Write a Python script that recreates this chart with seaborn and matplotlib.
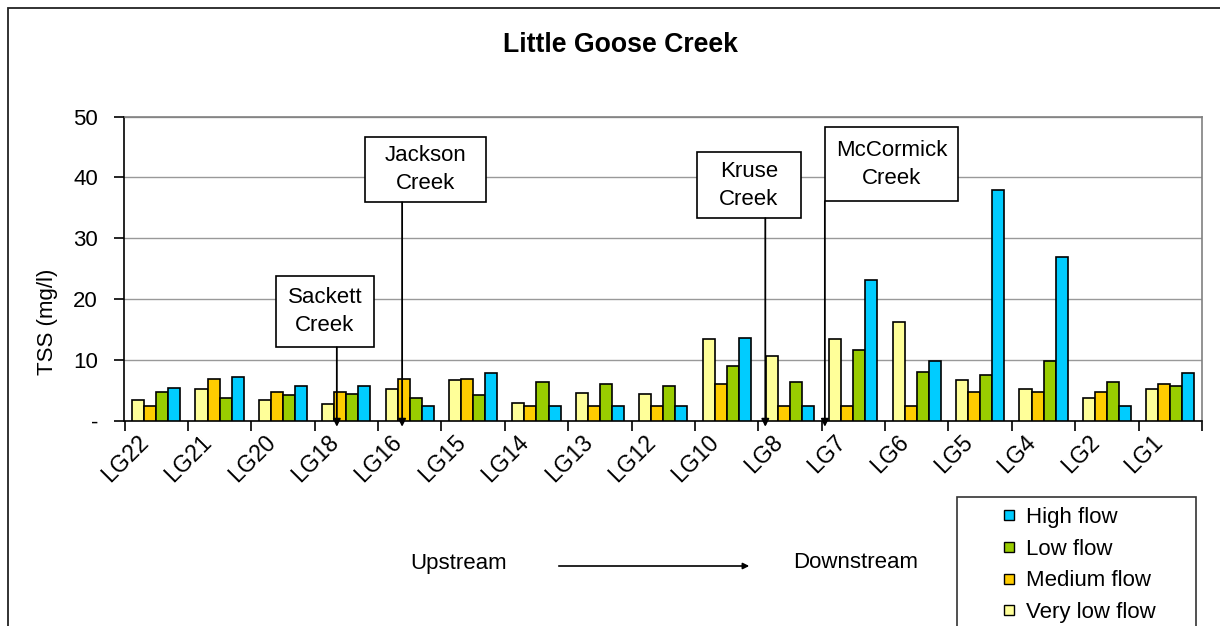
import matplotlib
matplotlib.use("Agg")
from matplotlib import pyplot as plt
from matplotlib.patches import Rectangle, FancyArrowPatch
from matplotlib.lines import Line2D
import matplotlib.transforms as mtransforms
import pandas as pd
import seaborn as sns

# sites from upstream to downstream
sites = ['LG22', 'LG21', 'LG20', 'LG18', 'LG16', 'LG15', 'LG14', 'LG13', 'LG12',
         'LG10', 'LG8', 'LG7', 'LG6', 'LG5', 'LG4', 'LG2', 'LG1']
very_low = [3.4, 5.3, 3.4, 2.8, 5.3, 6.7, 3.0, 4.6, 4.4, 13.4, 10.7, 13.4, 16.2, 6.7, 5.3, 3.7, 5.3]
medium = [2.5, 6.9, 4.8, 4.8, 6.9, 6.9, 2.5, 2.5, 2.5, 6.0, 2.5, 2.5, 2.5, 4.8, 4.8, 4.8, 6.0]
low = [4.8, 3.7, 4.2, 4.4, 3.7, 4.2, 6.4, 6.0, 5.8, 9.0, 6.4, 11.6, 8.1, 7.6, 9.9, 6.4, 5.8]
high = [5.5, 7.2, 5.8, 5.8, 2.5, 7.8, 2.5, 2.5, 2.5, 13.7, 2.5, 23.2, 9.9, 37.9, 26.9, 2.5, 7.8]

flows = ['Very low flow', 'Medium flow', 'Low flow', 'High flow']
colors = ['#FFFF99', '#FFCC00', '#99CC00', '#00CCFF']
y_ticks = [0, 10, 20, 30, 40, 50]
y_labels = ['-', '10', '20', '30', '40', '50']

# creek annotations: label, arrow x position (data), box x0, x1, y0, y1 (data)
creeks = [
    ('Sackett\nCreek', 2.85, 1.89, 3.43, 12.1, 23.8),
    ('Jackson\nCreek', 3.88, 3.29, 5.20, 35.9, 46.6),
    ('Kruse\nCreek', 9.61, 8.53, 10.17, 33.3, 44.1),
    ('McCormick\nCreek', 10.55, 10.55, 12.65, 36.1, 48.2),
]

df = pd.DataFrame({'Site': sites, 'Very low flow': very_low, 'Medium flow': medium,
                   'Low flow': low, 'High flow': high})
df = df.melt(id_vars='Site', var_name='Flow', value_name='TSS')

sns.set_style("white")
plt.rcParams['font.family'] = ['Liberation Sans', 'DejaVu Sans']
plt.rcParams['text.color'] = 'black'
plt.rcParams['xtick.color'] = 'black'
plt.rcParams['ytick.color'] = 'black'
plt.rcParams['xtick.labelcolor'] = 'black'
plt.rcParams['ytick.labelcolor'] = 'black'

fig = plt.figure(figsize=(12.2, 6.26), dpi=100)
ax = fig.add_axes([124.5 / 1220, 1 - 421 / 626, (1202 - 124.5) / 1220, (421 - 116.5) / 626])

sns.barplot(data=df, x='Site', y='TSS', hue='Flow', hue_order=flows, order=sites,
            palette=colors, saturation=1, width=0.76, edgecolor='black',
            linewidth=1.2, legend=False, ax=ax, zorder=3)

ax.set_xlim(-0.5, len(sites) - 0.5)
ax.set_ylim(0, 50)
ax.set_yticks(y_ticks)
ax.set_yticklabels(y_labels, fontsize=16)
ax.set_xlabel('')
ax.set_ylabel('')
ax.yaxis.grid(True, color='#999999', lw=1, zorder=0)
ax.set_axisbelow(True)

ax.spines['left'].set_color('black')
ax.spines['bottom'].set_color('black')
ax.spines['top'].set_color('#808080')
ax.spines['right'].set_color('#808080')
for s in ax.spines.values():
    s.set_linewidth(1.2)

ax.tick_params(axis='y', direction='out', length=7, width=1.2, pad=12, left=True)
ax.tick_params(axis='x', which='major', length=0, pad=7)
ax.set_xticks([i - 0.5 for i in range(len(sites) + 1)], minor=True)
ax.tick_params(axis='x', which='minor', direction='out', length=7, width=1.2, bottom=True)
ax.set_xticks(range(len(sites)))
ax.set_xticklabels(sites, fontsize=16.5, rotation=45, ha='right', va='top')
shift = mtransforms.ScaledTranslation(-3 / 100, 0, fig.dpi_scale_trans)
for lab in ax.get_xticklabels():
    lab.set_transform(lab.get_transform() + shift)

# creek boxes and arrows
for name, xa, x0, x1, y0, y1 in creeks:
    ax.add_patch(Rectangle((x0, y0), x1 - x0, y1 - y0, facecolor='white',
                           edgecolor='black', lw=1.2, zorder=5))
    ax.text((x0 + x1) / 2, (y0 + y1) / 2, name, ha='center', va='center',
            fontsize=16, linespacing=1.45, zorder=6)
    ax.annotate('', xy=(xa, -0.95), xytext=(xa, y0),
                arrowprops=dict(arrowstyle='-|>', color='black', lw=1.3,
                                mutation_scale=11, shrinkA=0, shrinkB=0),
                annotation_clip=False, zorder=6)

fig.text(620 / 1220, 1 - 45 / 626, 'Little Goose Creek', ha='center', va='center',
         fontsize=19.2, fontweight='bold')
fig.text(48 / 1220, 1 - 322 / 626, 'TSS (mg/l)', ha='center', va='center',
         rotation=90, fontsize=16)

# upstream / downstream
fig.text(459 / 1220, 1 - 563 / 626, 'Upstream', ha='center', va='center', fontsize=16)
fig.text(856 / 1220, 1 - 563 / 626, 'Downstream', ha='center', va='center', fontsize=16)
fig.add_artist(FancyArrowPatch((556 / 1220, 1 - 566 / 626), (752 / 1220, 1 - 566 / 626),
                               transform=fig.transFigure, arrowstyle='-|>',
                               mutation_scale=9, color='black', lw=1.2))

# outer chart border (only left and top visible)
fig.add_artist(Rectangle((8 / 1220, -0.2), 1.2, 1.2 - 8 / 626, transform=fig.transFigure,
                         fill=False, edgecolor='#222222', lw=1.3))

# legend box and legend
fig.add_artist(Rectangle((957 / 1220, -0.1), (1196 - 957) / 1220, 0.1 + 1 - 497 / 626,
                         transform=fig.transFigure, facecolor='white',
                         edgecolor='#333333', lw=1.2, zorder=1))
handles = [Line2D([], [], marker='s', linestyle='none', markersize=7.5,
                  markerfacecolor=c, markeredgecolor='black', markeredgewidth=1)
           for c in colors][::-1]
fig.legend(handles, flows[::-1], loc='upper left',
           bbox_to_anchor=(998 / 1220, 1 - 507 / 626), frameon=False, fontsize=16,
           handlelength=1.0, handletextpad=0.25, labelspacing=0.48,
           borderpad=0, borderaxespad=0)

fig.savefig('out.png', dpi=100)
